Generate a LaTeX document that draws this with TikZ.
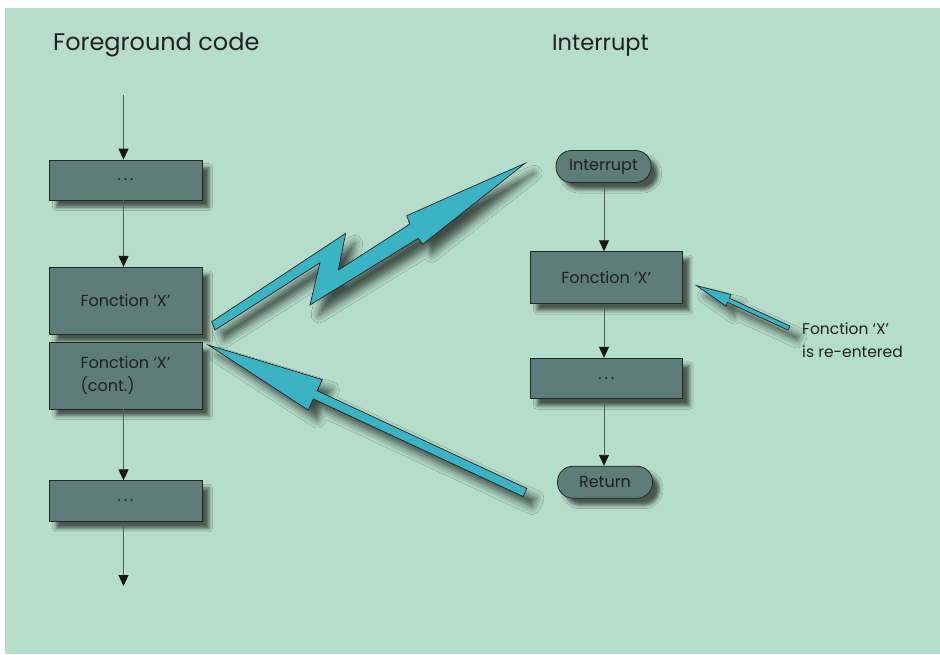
\documentclass[tikz,border=0pt]{standalone}
\usepackage{fontspec}
\setmainfont{Poppins}
\usetikzlibrary{shadows.blur,calc,arrows.meta}
\definecolor{bgc}{RGB}{182,221,201}
\definecolor{boxfill}{RGB}{94,124,122}
\definecolor{boxline}{RGB}{35,38,36}
\definecolor{cyanfill}{RGB}{58,179,196}
\definecolor{txt}{RGB}{32,32,32}
\definecolor{lnc}{RGB}{85,95,90}
\definecolor{tipc}{RGB}{25,22,20}
\tikzset{
  boxshadow/.style={blur shadow={shadow xshift=7pt, shadow yshift=-7pt, shadow blur radius=3.5pt, shadow opacity=60}},
  stepbox/.style={draw=boxline, fill=boxfill, line width=0.8pt, minimum width=153pt,
    text=txt, font=\fontsize{16}{23}\selectfont, inner sep=0pt, align=left, boxshadow},
  pill/.style={stepbox, rounded corners=15.5pt, minimum width=95pt, minimum height=32pt},
  flow/.style={draw=lnc, line width=0.9pt, -{Triangle[length=11pt,width=10pt,color=tipc]}},
  bigarrow/.style={draw=boxline, fill=cyanfill, line width=0.7pt, line join=miter,
    blur shadow={shadow xshift=9pt, shadow yshift=-10pt, shadow blur radius=8pt, shadow opacity=65}},
  heading/.style={text=txt, font=\fontsize{24}{28}\selectfont, inner sep=0pt, anchor=base west},
}
\newcommand\arrowpoly[5]{% tail, tip, shaft half width, head length, head half width
  \coordinate (hb) at ($(#2)!#4!(#1)$);
  \draw[bigarrow] ($(#1)!#3!90:(#2)$) -- ($(hb)!#3!-90:(#1)$) -- ($(hb)!#5!-90:(#1)$)
    -- (#2) -- ($(hb)!#5!90:(#1)$) -- ($(hb)!#3!90:(#1)$) -- ($(#1)!#3!-90:(#2)$) -- cycle;
}
\newcommand\dotsx{.\hspace{3pt}.\hspace{3pt}.}
\begin{document}
\begin{tikzpicture}[x=1pt,y=-1pt]
\useasboundingbox (0,0) rectangle (940,654);
\fill[white] (0,0) rectangle (940,654);
\fill[bgc] (5,8) rectangle (940,654);

% headings
\node[heading] (h1) at (53,50) {Foreground code};
\node[heading, font=\fontsize{22.5}{28}\selectfont] (h2) at (552,50) {Interrupt};

% left column
\coordinate (lstart) at (123.5,95);
\coordinate (lend) at (123.5,586);
\node[stepbox, minimum height=40pt] (b1) at (125.5,180) {\dotsx};
\node[stepbox, minimum height=67pt] (b2) at (125.5,300.8) {Fonction ‘X’};
\node[stepbox, minimum height=66.5pt] (b3) at (125.5,375.7) {Fonction ‘X’\\(cont.)};
\node[stepbox, minimum height=40.5pt] (b4) at (125.5,501) {\dotsx};

\draw[flow] (lstart) -- (lstart |- b1.north);
\draw[flow] (lstart |- b1.south) -- (lstart |- b2.north);
\draw[flow] (lstart |- b3.south) -- (lstart |- b4.north);
\draw[flow] (lstart |- b4.south) -- (lend);

% right column
\node[pill] (int) at (603.5,166.5) {Interrupt};
\node[stepbox, minimum width=152.5pt, minimum height=52pt] (r1) at (606.2,277.7) {Fonction ‘X’};
\node[stepbox, minimum width=152.5pt, minimum height=40.5pt] (r2) at (606.3,378.5) {\dotsx};
\node[pill] (ret) at (605,482.2) {Return};

\coordinate (rx) at (604,0);
\draw[flow] (rx |- int.south) -- (rx |- r1.north);
\draw[flow] (rx |- r1.south) -- (rx |- r2.north);
\draw[flow] (rx |- r2.south) -- (rx |- ret.north);

% lightning arrow (interrupt)
\draw[bigarrow] (211.7,321.7) -- (345.7,233.3) -- (338.3,270) -- (410,224) -- (406.7,215.7)
  -- (525,163.3) -- (422.7,244.3) -- (418.3,238.3) -- (310,305) -- (320,262.7) -- (215,330) -- cycle;

% return arrow
\coordinate (rtail) at (525,492.5);
\coordinate (rtip) at (208.3,345);
\arrowpoly{rtail}{rtip}{4.5pt}{118pt}{16.8pt}

% re-entered arrow
\coordinate (ltail) at (789,328);
\coordinate (ltip) at (696.7,285.7);
\arrowpoly{ltail}{ltip}{2.2pt}{35pt}{6.3pt}

\node[text=txt, font=\fontsize{15.5}{23}\selectfont, align=left, anchor=north west, inner sep=0pt]
  (lbl) at (802,322) {Fonction ‘X’\\is re-entered};
\end{tikzpicture}
\end{document}
